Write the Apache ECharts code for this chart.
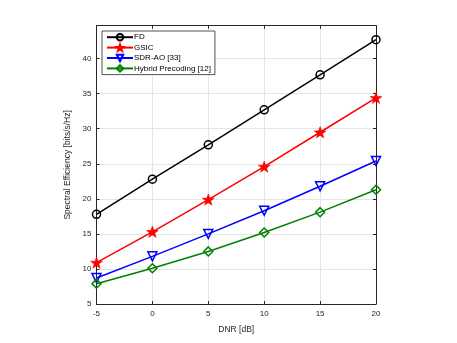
<!DOCTYPE html>
<html>
<head>
<meta charset="utf-8">
<script src="https://cdn.jsdelivr.net/npm/echarts@6/dist/echarts.min.js"></script>
<style>
  html, body { margin: 0; padding: 0; background: #fff; }
  #chart { width: 457px; height: 343px; }
</style>
</head>
<body>
<div id="chart"></div>
<script>
// DNR values on the x axis
const dnr = [-5, 0, 5, 10, 15, 20]

// spectral efficiency per scheme
const fd = [17.8, 22.8, 27.7, 32.7, 37.7, 42.7]
const gsic = [10.9, 15.3, 19.9, 24.6, 29.5, 34.4]
const sdrAo = [8.7, 11.8, 15.0, 18.3, 21.8, 25.4]
const hybrid = [7.9, 10.1, 12.5, 15.2, 18.1, 21.3]

const names = ['FD', 'GSIC', 'SDR-AO [33]', 'Hybrid Precoding [12]']

const pair = (ys) => dnr.map((x, i) => [x, ys[i]])

const starPath = 'path://M0,-10 L2.35,-3.24 L9.51,-3.09 L3.8,1.24 L5.88,8.09 L0,4 L-5.88,8.09 L-3.8,1.24 L-9.51,-3.09 L-2.35,-3.24 Z'

const font = 'Liberation Sans, Arial, Helvetica, sans-serif'
const axisColor = '#262626'
const gridColor = '#e5e5e5'

const chart = echarts.init(document.getElementById('chart'))

// shared look for the frame axes
const frame = (pos, extra) => Object.assign({
  type: 'value',
  position: pos,
  axisLine: { show: true, onZero: false, lineStyle: { color: axisColor, width: 1 } },
  axisTick: { show: true, inside: true, length: 3, lineStyle: { color: axisColor } },
  splitLine: { show: false },
  axisLabel: { show: false },
}, extra)

const mkSeries = (name, data, color, symbol, size, filled, rotate) => ({
  name,
  type: 'line',
  data: pair(data),
  symbol,
  symbolSize: size,
  symbolRotate: rotate || 0,
  symbolKeepAspect: true,
  showAllSymbol: true,
  lineStyle: { color, width: 1.5 },
  itemStyle: {
    color: filled ? color : 'rgba(255,255,255,0)',
    borderColor: color,
    borderWidth: filled ? 0.5 : 1.5,
  },
  emphasis: { disabled: true },
  animation: false,
  z: 3,
})

const option = {
  backgroundColor: '#fff',
  animation: false,
  grid: { left: 96.5, right: 81, top: 25.7, bottom: 39 },
  legend: {
    left: 102,
    top: 31,
    orient: 'vertical',
    data: names,
    itemWidth: 26,
    itemHeight: 8,
    itemGap: 2,
    padding: [2, 4, 2, 4],
    backgroundColor: '#fff',
    borderColor: axisColor,
    borderWidth: 0.8,
    textStyle: { fontFamily: font, fontSize: 8, color: '#000', padding: [0, 0, 0, -4] },
  },
  xAxis: [
    frame('bottom', {
      min: -5,
      max: 20,
      interval: 5,
      name: 'DNR [dB]',
      nameLocation: 'middle',
      nameGap: 21,
      nameTextStyle: { fontFamily: font, fontSize: 8.5, color: axisColor },
      axisLabel: { show: true, margin: 6, fontFamily: font, fontSize: 8, color: axisColor },
      splitLine: { show: true, lineStyle: { color: gridColor, width: 1 } },
    }),
    frame('top', { min: -5, max: 20, interval: 5 }),
  ],
  yAxis: [
    frame('left', {
      min: 5,
      max: 44.7,
      interval: 5,
      name: 'Spectral Efficiency [bits/s/Hz]',
      nameLocation: 'middle',
      nameGap: 19,
      nameTextStyle: { fontFamily: font, fontSize: 8.5, color: axisColor },
      axisLabel: {
        show: true,
        margin: 5,
        fontFamily: font,
        fontSize: 8,
        color: axisColor,
        formatter: (v) => (v % 5 === 0 ? String(v) : ''),
      },
      splitLine: { show: true, lineStyle: { color: gridColor, width: 1 } },
    }),
    frame('right', { min: 5, max: 44.7, interval: 5 }),
  ],
  series: [
    mkSeries(names[0], fd, '#000000', 'circle', 8, false),
    mkSeries(names[1], gsic, '#ff0000', starPath, 12, true),
    mkSeries(names[2], sdrAo, '#0000ff', 'triangle', 9, false, 180),
    mkSeries(names[3], hybrid, '#008000', 'diamond', 9, false),
  ],
}

chart.setOption(option)
</script>
</body>
</html>
